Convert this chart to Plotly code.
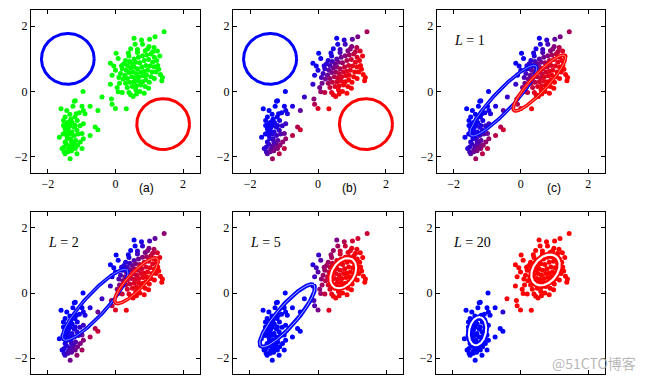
import numpy as np
import plotly.graph_objects as go

# ---- data points (standardised values) ----
pts_x = [1.44, 1.17, 1.01, 0.77, 0.55, 0.58, 0.80, 0.45, 0.65, 0.99, 1.14, 1.24, 0.02, 0.40, 0.08,
         -0.15, 0.18, 1.31, -0.10, -0.15, 0.10, 0.05, 0.08, 0.20, 0.40, 0.45, 0.52, 1.39, 1.37, -0.40,
         -0.12, -0.10, 0.00, 0.32, -0.52, -0.96,
         0.30, 0.42, 0.55, 0.68, 0.80, 0.92, 1.05, 1.15, 0.25, 0.35, 0.50, 0.60, 0.72, 0.85, 0.98,
         1.10, 1.22, 0.20, 0.32, 0.45, 0.55, 0.65, 0.78, 0.90, 1.02, 1.15, 1.25, 0.15, 0.28, 0.40,
         0.52, 0.62, 0.75, 0.85, 0.95, 1.08, 1.20, 0.22, 0.35, 0.48, 0.58, 0.70, 0.82, 0.92, 1.05,
         1.15, 0.30, 0.42, 0.55, 0.68, 0.80, 0.90, 1.00, 0.35, 0.50, 0.62, 0.75, 0.88, 0.98, 0.60,
         0.72, 0.85, 0.65, 0.88, 0.38, 1.28, 1.33, 0.12, 0.00, -0.05, 0.62, 0.95, 1.10,
         -1.22, -1.26, -1.61, -1.44, -0.99, -0.75, -0.95, -1.07, -1.16, -0.90, -1.49, -1.54, -1.32,
         -1.13, -1.44, -1.34, -1.19, -0.95, -1.49, -1.29, -1.14, -1.66, -1.44, -1.32, -0.99, -0.95,
         -1.49, -1.24, -1.04, -1.52, -1.39, -1.19, -0.99, -1.49, -1.14, -1.34, -1.52, -1.41, -1.36,
         -1.54, -1.40, -1.28, -1.22, -1.38, -1.48, -1.35, -1.22, -1.10, -1.42, -1.30, -1.18, -1.45,
         -1.35, -1.25, -1.40, -1.30, -1.55, -1.20, -1.05, -1.12, -1.48, -1.35, -1.58, -0.60, -0.52,
         -0.75, -1.19]
pts_y = [1.83, 1.68, 1.60, 1.58, 1.63, 1.45, 1.45, 1.31, 1.29, 1.38, 1.35, 1.24, 1.17, 1.09, 1.01,
         0.87, 0.79, 1.09, 0.50, 0.22, 0.43, 0.12, -0.01, -0.03, -0.03, -0.10, -0.15, 0.43, 0.33, -0.17,
         -0.23, -0.39, -0.52, -0.53, -0.58, 0.00,
         0.95, 0.92, 1.00, 1.05, 1.10, 1.12, 1.15, 1.05, 0.85, 0.80, 0.85, 0.90, 0.88, 0.95, 0.98,
         0.90, 0.95, 0.70, 0.65, 0.72, 0.75, 0.70, 0.75, 0.80, 0.78, 0.75, 0.80, 0.55, 0.50, 0.58,
         0.60, 0.55, 0.60, 0.62, 0.65, 0.60, 0.60, 0.38, 0.40, 0.45, 0.42, 0.45, 0.48, 0.50, 0.45,
         0.40, 0.25, 0.28, 0.30, 0.32, 0.30, 0.35, 0.28, 0.12, 0.15, 0.18, 0.20, 0.15, 0.10, 0.05,
         0.00, -0.05, 1.20, 1.25, 1.18, 0.68, 0.52, 0.25, 0.65, 0.78, -0.08, 1.30, 1.22,
         -0.30, -0.45, -0.53, -0.58, -0.45, -0.45, -0.58, -0.65, -0.68, -0.68, -0.78, -0.89, -0.84,
         -0.89, -0.99, -1.04, -1.04, -0.99, -1.14, -1.24, -1.19, -1.40, -1.35, -1.45, -1.29, -1.45,
         -1.55, -1.60, -1.55, -1.70, -1.77, -1.75, -1.75, -1.91, -1.91, -2.06, -1.85, -1.20, -0.92,
         -1.04, -0.95, -0.95, -1.10, -1.10, -1.25, -1.30, -1.35, -1.30, -1.45, -1.55, -1.50, -1.62,
         -1.68, -1.72, -1.85, -1.82, -1.30, -0.78, -1.05, -1.65, -1.05, -0.70, -1.75, -1.09, -1.17,
         -1.35, -0.28]

# ---- Gaussian components read from the drawn circles / ellipses ----
# centre x, centre y, semi-major, semi-minor, angle (deg)
init_blue = [-1.41, 1.00, 0.78, 0.78, 0.0]
init_red = [1.41, -1.00, 0.78, 0.78, 0.0]
L1_blue = [-0.52, -0.28, 1.44, 0.30, 47.7]
L1_red = [0.55, 0.26, 1.13, 0.25, 48.0]
L2_blue = [-0.60, -0.36, 1.42, 0.33, 48.7]
L2_red = [0.62, 0.38, 0.92, 0.25, 47.9]
L4_blue = [-0.85, -0.62, 1.30, 0.32, 50.0]
L4_red = [0.76, 0.62, 0.55, 0.30, 55.0]
L5_blue = [-0.90, -0.69, 1.22, 0.30, 50.5]
L5_red = [0.74, 0.61, 0.50, 0.33, 60.0]
L20_blue = [-1.27, -1.17, 0.44, 0.25, 80.0]
L20_red = [0.74, 0.71, 0.52, 0.36, 55.0]
mix_red = [0.50, 0.55, 0.55, 0.64]   # init, L1, L4, L20

panel_labels = ["(a)", "(b)", "(c)"]
label_xpos = [0.2264, 0.5400, 0.8554]
panel_L = ["", "", "1", "2", "5", "20"]

# ---- layout geometry ----
xdoms = [[0.0478, 0.3086], [0.3596, 0.6219], [0.6739, 0.9336],
         [0.0478, 0.3086], [0.3591, 0.6224], [0.6728, 0.9336]]
ydoms = [[0.5447, 0.9737]] * 3 + [[0.0145, 0.4429]] * 3

X = np.array(pts_x)
Y = np.array(pts_y)


def log_gauss(p, x, y):
    cx, cy, a, b, ang = p
    th = np.deg2rad(ang)
    dx, dy = x - cx, y - cy
    u = dx * np.cos(th) + dy * np.sin(th)
    v = -dx * np.sin(th) + dy * np.cos(th)
    return -0.5 * ((u / a) ** 2 + (v / b) ** 2) - np.log(a * b)


def resp_red(pb, pr, pi_r):
    lr = (np.log(pi_r) + log_gauss(pr, X, Y)) - (np.log(1 - pi_r) + log_gauss(pb, X, Y))
    return 1.0 / (1.0 + np.exp(-np.clip(lr, -50, 50)))


def colours(r):
    return ["rgb(%d,0,%d)" % (int(round(255 * v)), int(round(255 * (1 - v)))) for v in r]


def ellipse(p, n=240):
    cx, cy, a, b, ang = p
    t = np.linspace(0, 2 * np.pi, n)
    th = np.deg2rad(ang)
    ex = cx + a * np.cos(t) * np.cos(th) - b * np.sin(t) * np.sin(th)
    ey = cy + a * np.cos(t) * np.sin(th) + b * np.sin(t) * np.cos(th)
    return ex, ey


point_colours = [
    ["#00ff00"] * len(pts_x),
    colours(resp_red(init_blue, init_red, mix_red[0])),
    colours(resp_red(init_blue, init_red, mix_red[0])),
    colours(resp_red(L1_blue, L1_red, mix_red[1])),
    colours(resp_red(L4_blue, L4_red, mix_red[2])),
    colours(resp_red(L20_blue, L20_red, mix_red[3])),
]
# [(params, colour, line width, white centre width), ...]
drawn = [
    [(init_blue, "#0000ff", 3.0, 0.0), (init_red, "#ff0000", 3.0, 0.0)],
    [(init_blue, "#0000ff", 3.0, 0.0), (init_red, "#ff0000", 3.0, 0.0)],
    [(L1_blue, "#0000ff", 3.6, 0.5), (L1_red, "#ff0000", 3.6, 0.5)],
    [(L2_blue, "#0000ff", 3.6, 0.5), (L2_red, "#ff0000", 3.6, 0.5)],
    [(L5_blue, "#0000ff", 4.2, 0.7), (L5_red, "#ff0000", 6.0, 2.0)],
    [(L20_blue, "#0000ff", 6.0, 2.0), (L20_red, "#ff0000", 6.5, 2.2)],
]

fig = go.Figure()
layout = dict(width=648, height=380, margin=dict(l=0, r=0, t=0, b=0),
              paper_bgcolor="white", plot_bgcolor="white", showlegend=False)
annotations = []

for i in range(6):
    k = "" if i == 0 else str(i + 1)
    xa, ya = "x" + k, "y" + k
    fig.add_trace(go.Scatter(x=pts_x, y=pts_y, mode="markers", xaxis=xa, yaxis=ya,
                             marker=dict(size=5, color=point_colours[i], line=dict(width=0)),
                             hoverinfo="skip"))
    for p, c, w, ww in drawn[i]:
        ex, ey = ellipse(p)
        fig.add_trace(go.Scatter(x=ex, y=ey, mode="lines", xaxis=xa, yaxis=ya,
                                 line=dict(color=c, width=w), hoverinfo="skip"))
        if ww > 0:
            fig.add_trace(go.Scatter(x=ex, y=ey, mode="lines", xaxis=xa, yaxis=ya,
                                     line=dict(color="white", width=ww), hoverinfo="skip"))
    axis_common = dict(range=[-2.5, 2.5], tickvals=[-2, 0, 2], ticks="inside", ticklen=4,
                       tickcolor="black", mirror="ticks", showline=True, linecolor="black",
                       linewidth=1, showgrid=False, zeroline=False, fixedrange=True,
                       tickfont=dict(family="Liberation Serif", size=12, color="black"))
    layout["xaxis" + k] = dict(axis_common, domain=xdoms[i], anchor=ya,
                               showticklabels=(i < 3))
    layout["yaxis" + k] = dict(axis_common, domain=ydoms[i], anchor=xa)
    if i < 3:
        annotations.append(dict(text=panel_labels[i], xref="paper", yref="paper",
                                x=label_xpos[i], y=0.5053,
                                xanchor="center", yanchor="middle", showarrow=False,
                                font=dict(family="Liberation Sans", size=12, color="black")))
    if panel_L[i]:
        annotations.append(dict(text="<i>L</i> = " + panel_L[i], xref=xa, yref=ya,
                                x=-2.05, y=1.55, xanchor="left", yanchor="middle",
                                showarrow=False,
                                font=dict(family="Liberation Serif", size=14, color="black")))

annotations.append(dict(text="@51CTO博客", xref="paper", yref="paper", x=0.917, y=0.045,
                        xanchor="center", yanchor="middle", showarrow=False,
                        font=dict(family="Noto Sans CJK SC", size=14, color="rgba(170,170,170,0.85)")))
layout["annotations"] = annotations
fig.update_layout(**layout)
fig.write_html("out.html", config={"displayModeBar": False},
               post_script="document.body.style.margin='0px';document.body.style.overflow='hidden';")
